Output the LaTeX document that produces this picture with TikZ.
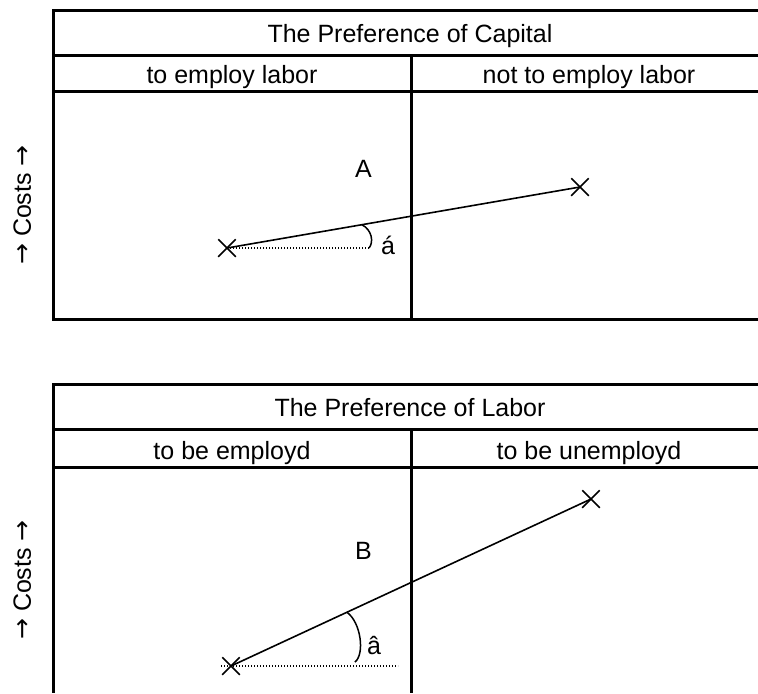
\documentclass[tikz,border=0pt]{standalone}
\usepackage{fontspec}
\setmainfont{Liberation Sans}
\newfontfamily\arrowfont{DejaVu Sans}
\newcommand{\uparr}{{\arrowfont →}}
\usetikzlibrary{shapes.misc, calc}

\begin{document}
\begin{tikzpicture}[x=0.5pt, y=-0.5pt,
    grid/.style={line width=1.5pt},
    lbl/.style={font=\fontsize{12.5}{15}\selectfont, inner sep=0pt, text height=8.95pt, text depth=0pt},
    crossmark/.style={draw, cross out, minimum size=8pt, inner sep=0pt, line width=0.75pt},
    slope/.style={line width=0.8pt},
    base/.style={line width=0.6pt, dash pattern=on 0.6pt off 0.9pt},
    anglearc/.style={line width=0.75pt}
]
    \useasboundingbox (0,0) rectangle (758,693);
    % upper table
    \draw[grid] (758,10) -- (53,10) -- (53,319) -- (758,319);
    \draw[grid] (53,55) -- (758,55);
    \draw[grid] (53,91) -- (758,91);
    \draw[grid] (411,55) -- (411,319);
    \node[lbl] (capital) at (410,33.5) {The Preference of Capital};
    \node[lbl] (employ) at (232,75) {to employ labor};
    \node[lbl] (notemploy) at (589,75) {not to employ labor};
    \node[lbl, rotate=90] (costsA) at (22,205) {\uparr\ Costs \uparr};
    \node[lbl] (labelA) at (363.5,168.5) {A};
    \node[crossmark] (a1) at (227,248) {};
    \node[crossmark] (a2) at (580,187) {};
    \coordinate (a3) at (369,248);
    \coordinate (a4) at ($(a1)!0.382!(a2)$);
    \draw[slope] (a1.center) -- (a2.center);
    \draw[base] (a1.center) -- (a3);
    \draw[anglearc] (a4) .. controls +(10,5) and +(5,-6) .. (a3);
    \node[lbl] (alpha) at (388,246) {á};
    % lower table
    \draw[grid] (758,384) -- (53,384) -- (53,693);
    \draw[grid] (53,429) -- (758,429);
    \draw[grid] (53,467) -- (758,467);
    \draw[grid] (411,429) -- (411,693);
    \node[lbl] (labor) at (410,407.5) {The Preference of Labor};
    \node[lbl] (employd) at (232,450.5) {to be employd};
    \node[lbl] (unemployd) at (589,450.5) {to be unemployd};
    \node[lbl, rotate=90] (costsB) at (22,580) {\uparr\ Costs \uparr};
    \node[lbl] (labelB) at (363.5,551) {B};
    \node[crossmark] (b1) at (231,666) {};
    \node[crossmark] (b2) at (591,499) {};
    \coordinate (b3) at (221,666);
    \coordinate (b4) at (398,666);
    \coordinate (b5) at ($(b1)!0.322!(b2)$);
    \coordinate (b6) at (355,662);
    \draw[slope] (b1.center) -- (b2.center);
    \draw[base] (b3) -- (b4);
    \draw[anglearc] (b5) .. controls +(14,10) and +(10,-8) .. (b6);
    \node[lbl] (beta) at (374,646) {â};
\end{tikzpicture}
\end{document}
